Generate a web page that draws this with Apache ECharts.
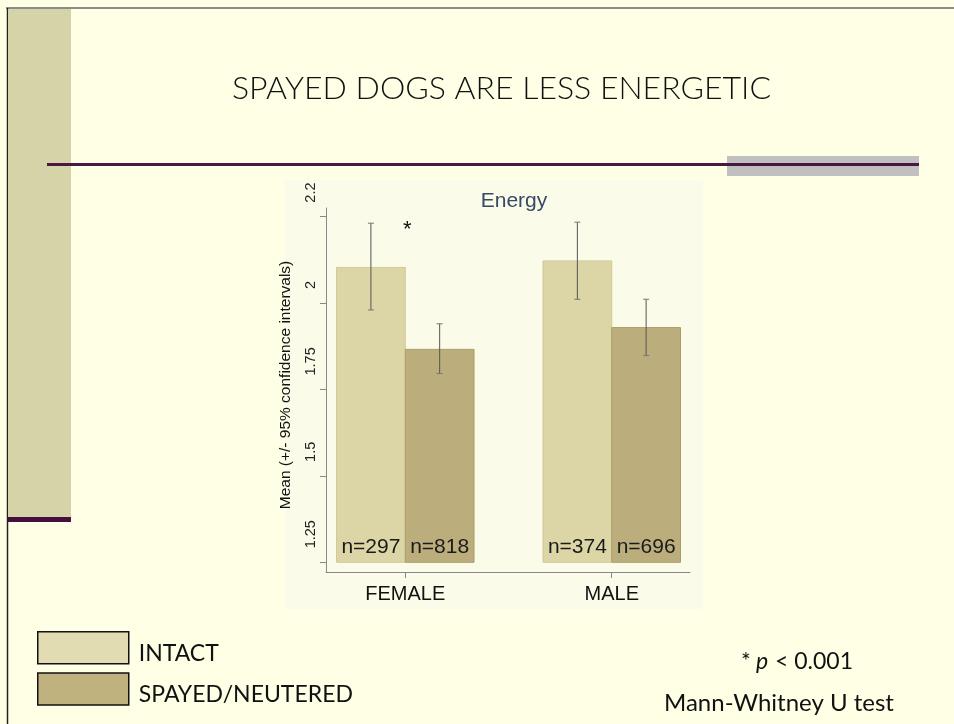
<!DOCTYPE html>
<html>
<head>
<meta charset="utf-8">
<script src="https://cdn.jsdelivr.net/npm/echarts@6/dist/echarts.min.js"></script>
<style>
html, body { margin: 0; padding: 0; background: #ffffe6; }
#main { width: 954px; height: 724px; }
</style>
</head>
<body>
<div id="main"></div>
<script>
// data
var groups = ['FEMALE', 'MALE'];
var seriesNames = ['INTACT', 'SPAYED/NEUTERED'];
var intactMean = [2.103, 2.122];
var intactLow = [1.980, 2.011];
var intactHigh = [2.231, 2.234];
var spayedMean = [1.866, 1.929];
var spayedLow = [1.796, 1.848];
var spayedHigh = [1.940, 2.011];
var intactN = ['n=297', 'n=374'];
var spayedN = ['n=818', 'n=696'];
var yTicks = [1.25, 1.5, 1.75, 2, 2.25];
var yTickText = ['1.25', '1.5', '1.75', '2', '2.2'];
var barBase = 1.25;

var chart = echarts.init(document.getElementById('main'));

// bar + error bar + n label, side = -1 left of group tick, +1 right
function makeRender(means, lows, highs, labels, side, fill, stroke) {
    return function (params, api) {
        var i = api.value(0) - 1;
        var c = api.value(0);
        var w = 0.333;
        var x0 = side < 0 ? c - w : c;
        var x1 = side < 0 ? c : c + w;
        var pTop = api.coord([x0, means[i]]);
        var pBot = api.coord([x1, barBase]);
        var mid = api.coord([(x0 + x1) / 2, highs[i]]);
        var lo = api.coord([(x0 + x1) / 2, lows[i]]);
        return {
            type: 'group',
            children: [
                {
                    type: 'rect',
                    shape: { x: pTop[0], y: pTop[1], width: pBot[0] - pTop[0], height: pBot[1] - pTop[1] },
                    style: { fill: fill, stroke: stroke, lineWidth: 1 }
                },
                {
                    type: 'line',
                    shape: { x1: mid[0], y1: mid[1], x2: lo[0], y2: lo[1] },
                    style: { stroke: '#555', lineWidth: 1 }
                },
                {
                    type: 'line',
                    shape: { x1: mid[0] - 3, y1: mid[1], x2: mid[0] + 3, y2: mid[1] },
                    style: { stroke: '#777', lineWidth: 1 }
                },
                {
                    type: 'line',
                    shape: { x1: lo[0] - 3, y1: lo[1], x2: lo[0] + 3, y2: lo[1] },
                    style: { stroke: '#777', lineWidth: 1 }
                },
                {
                    type: 'text',
                    style: {
                        x: (pTop[0] + pBot[0]) / 2, y: pBot[1] - 15,
                        text: labels[i], align: 'center', verticalAlign: 'middle',
                        font: '21px "Liberation Sans", Arial, sans-serif', fill: '#1a1a1a'
                    }
                }
            ]
        };
    };
}

var option = {
    backgroundColor: '#ffffe6',
    animation: false,
    title: {
        text: 'Energy',
        left: 509,
        textAlign: 'center',
        top: 186,
        textStyle: { fontFamily: '"Liberation Sans", Arial, sans-serif', fontSize: 21, fontWeight: 'normal', color: '#3a4868' }
    },
    legend: {
        orient: 'vertical',
        left: 37,
        top: 631,
        padding: 0,
        itemWidth: 91,
        itemHeight: 32,
        itemGap: 7,
        icon: 'rect',
        formatter: '{t|{name}}',
        textStyle: {
            color: '#111',
            rich: {
                t: { fontFamily: '"Lato", "Open Sans", sans-serif', fontSize: 23, color: '#111', padding: [12, 0, 0, 5] }
            }
        },
        data: [
            { name: seriesNames[0], itemStyle: { color: '#e1dcb2', borderColor: '#111', borderWidth: 1.5 } },
            { name: seriesNames[1], itemStyle: { color: '#bfb27f', borderColor: '#111', borderWidth: 1.5 } }
        ]
    },
    grid: { left: 326, right: 264, top: 208, bottom: 152 },
    xAxis: {
        type: 'value',
        min: 0.616,
        max: 2.379,
        splitLine: { show: false },
        axisLine: { show: true, lineStyle: { color: '#888' } },
        axisTick: { show: true, length: 6, lineStyle: { color: '#888' }, customValues: [1, 2] },
        axisLabel: {
            customValues: [1, 2],
            formatter: function (v) { return groups[Math.round(v) - 1]; },
            fontFamily: '"Liberation Sans", Arial, sans-serif',
            fontSize: 20, color: '#111', margin: 12
        }
    },
    yAxis: {
        type: 'value',
        min: 1.222,
        max: 2.275,
        name: 'Mean (+/- 95% confidence intervals)',
        nameLocation: 'middle',
        nameGap: 32,
        nameTextStyle: { fontFamily: '"Liberation Sans", Arial, sans-serif', fontSize: 15.5, color: '#111', padding: [0, 0, 0, 10] },
        splitLine: { show: false },
        axisLine: { show: true, lineStyle: { color: '#888' } },
        axisTick: { show: true, length: 6, lineStyle: { color: '#888' }, customValues: yTicks },
        axisLabel: {
            customValues: yTicks,
            rotate: 90,
            align: 'left',
            padding: [0, 0, 0, 14],
            margin: 8,
            formatter: function (v) { return yTickText[yTicks.indexOf(v)]; },
            fontFamily: '"Liberation Sans", Arial, sans-serif',
            fontSize: 14.5, color: '#222'
        }
    },
    series: [
        {
            name: seriesNames[0],
            type: 'custom',
            itemStyle: { color: '#e1dcb2' },
            renderItem: makeRender(intactMean, intactLow, intactHigh, intactN, -1, '#dcd5a6', '#d2ca98'),
            data: [[1], [2]],
            z: 2
        },
        {
            name: seriesNames[1],
            type: 'custom',
            itemStyle: { color: '#bfb27f' },
            renderItem: makeRender(spayedMean, spayedLow, spayedHigh, spayedN, 1, '#bcae7c', '#ab9d69'),
            data: [[1], [2]],
            z: 2
        }
    ],
    graphic: [
        // slide frame
        { type: 'line', shape: { x1: 6, y1: 8, x2: 954, y2: 8 }, style: { stroke: '#666', lineWidth: 1.5 }, z: -10 },
        { type: 'line', shape: { x1: 7.5, y1: 8, x2: 7.5, y2: 724 }, style: { stroke: '#222', lineWidth: 1.5 }, z: -10 },
        { type: 'rect', shape: { x: 8, y: 9, width: 63, height: 509 }, style: { fill: '#d5d3a8' }, z: -10 },
        { type: 'rect', shape: { x: 8, y: 517, width: 63, height: 5 }, style: { fill: '#45103f' }, z: -10 },
        { type: 'rect', shape: { x: 727, y: 156, width: 192, height: 20 }, style: { fill: '#c0c0c0' }, z: -10 },
        { type: 'rect', shape: { x: 47, y: 163, width: 872, height: 3 }, style: { fill: '#4a1745' }, z: -9 },
        // chart panel
        { type: 'rect', shape: { x: 285, y: 180, width: 418, height: 429 }, style: { fill: '#fafbe8' }, z: -10 },
        {
            type: 'text', left: 232, top: 73, z: 5,
            style: { text: 'SPAYED DOGS ARE LESS ENERGETIC', font: '300 32px "Lato", "Open Sans", sans-serif', fill: '#111' }
        },
        {
            type: 'text', left: 403, top: 219, z: 5,
            style: { text: '*', font: '22px "Liberation Sans", Arial, sans-serif', fill: '#111' }
        },
        {
            type: 'group', left: 741, top: 650, z: 5,
            children: [
                { type: 'text', style: { text: '*', font: '23px "Lato", "Open Sans", sans-serif', fill: '#111', x: 0, y: 0 } },
                { type: 'text', style: { text: 'p', font: 'italic 23px "Lato", "Open Sans", sans-serif', fill: '#111', x: 15, y: 0 } },
                { type: 'text', style: { text: '< 0.001', font: '23px "Lato", "Open Sans", sans-serif', fill: '#111', x: 34, y: 0 } }
            ]
        },
        {
            type: 'text', left: 664, top: 691, z: 5,
            style: { text: 'Mann-Whitney U test', font: '24px "Lato", "Open Sans", sans-serif', fill: '#111' }
        }
    ]
};

chart.setOption(option);
</script>
</body>
</html>
